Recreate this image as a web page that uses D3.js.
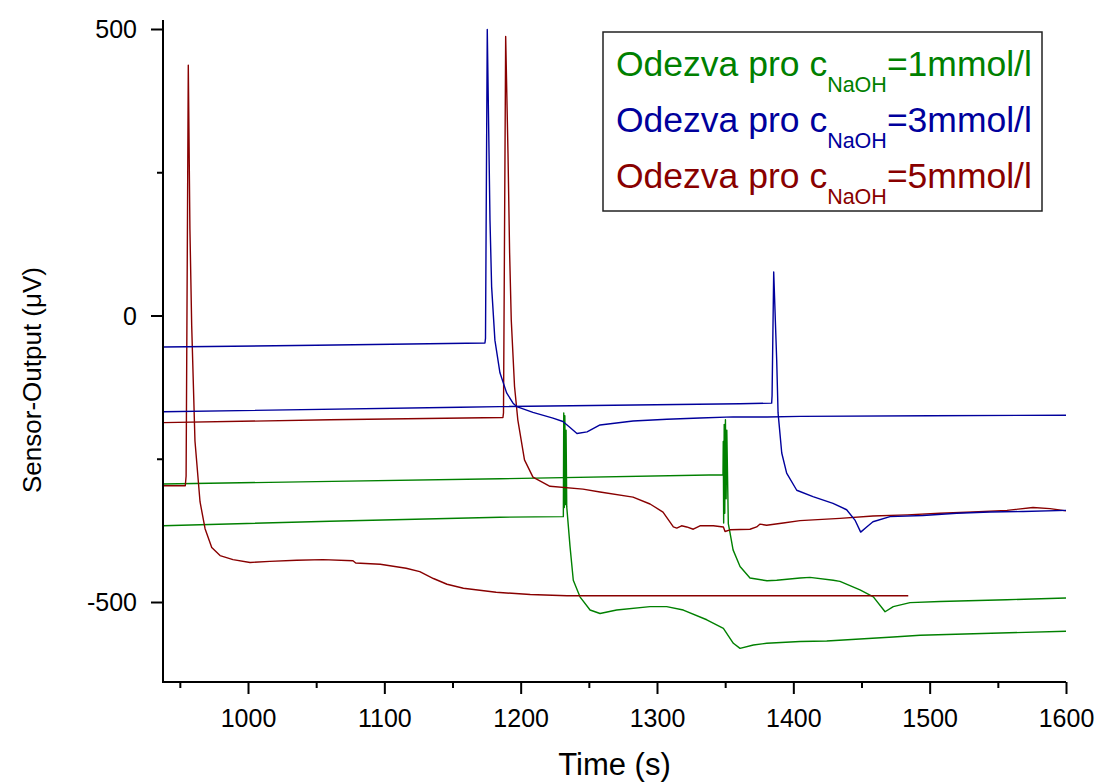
<!DOCTYPE html>
<html>
<head>
<meta charset="utf-8">
<script src="https://cdn.jsdelivr.net/npm/d3@7"></script>
<style>
  html, body { margin: 0; padding: 0; background: #fff; }
  svg { display: block; font-family: "Liberation Sans", Arial, sans-serif; }
</style>
</head>
<body>
<svg id="chart" width="1098" height="782"></svg>
<script>
// ---- Data (time in s, sensor output in µV) ----
const xTicks = [1000, 1100, 1200, 1300, 1400, 1500, 1600];
const xMinorTicks = [950, 1050, 1150, 1250, 1350, 1450, 1550];
const yTicks = [-500, 0, 500];
const yMinorTicks = [-250, 250];
const xTitle = "Time (s)";
const yTitle = "Sensor-Output (\u03BCV)";

const legendLabels = ["=1mmol/l", "=3mmol/l", "=5mmol/l"];
const seriesColors = ["#008000", "#00009c", "#880000"];

// green (1 mmol/l), first trace (upper)
const green1 = [[937.6,-294],[1050,-290],[1184.8,-285],[1348.4,-278],[1348.6,-220],[1348.9,-362],[1349.3,-190],
  [1349.7,-345],[1350.2,-182],[1350.7,-320],[1351.2,-200],[1352.3,-363],[1353.6,-380],[1355.8,-409],[1360.9,-438],
  [1368.2,-458],[1380.7,-463],[1387.8,-462],[1404.9,-458],[1412.2,-457],[1429.3,-462],[1434.2,-464],[1448.9,-479],
  [1458.7,-491],[1467.3,-517],[1473.3,-508],[1485.6,-501],[1507.6,-499],[1556.5,-496],[1600,-493]];
// green (1 mmol/l), second trace (lower)
const green2 = [[937.6,-367],[1060,-359],[1184.8,-352],[1231.3,-351],[1231.6,-170],[1232.0,-335],[1232.4,-175],
  [1232.9,-330],[1233.3,-200],[1233.8,-334],[1236.2,-403],[1238.6,-462],[1243.5,-491],[1250.9,-514],[1258.2,-520],
  [1270.4,-514],[1294.9,-508],[1307.1,-508],[1319.3,-514],[1336.5,-531],[1348.7,-546],[1356,-572],[1360.9,-581],
  [1370.7,-575],[1380.5,-572],[1404.9,-569],[1424.5,-568],[1473.3,-561],[1493,-558],[1600,-551]];
// blue (3 mmol/l), first trace
const blue1 = [[937.6,-55],[1050,-52],[1173.8,-48],[1174.2,-40],[1175.5,499],[1177.5,166],[1178.7,50],[1181.1,-43],
  [1184.8,-100],[1189.7,-135],[1194.4,-153],[1197.1,-159],[1209,-169],[1223.7,-179],[1231,-185],[1236,-195],
  [1241.3,-206],[1248.7,-203],[1258.2,-191],[1282.4,-184],[1307.3,-181],[1331.5,-179],[1355.8,-177],[1380.7,-177],
  [1404.9,-176],[1500,-175],[1600,-174]];
// blue (3 mmol/l), second trace
const blue2 = [[937.6,-168],[1155.5,-160],[1184.8,-159],[1360.9,-154],[1384.1,-153],[1384.4,-140],[1385.6,76],
  [1387.8,-78],[1388.8,-170],[1391.5,-240],[1395.1,-275],[1402.5,-305],[1414.4,-316],[1429.1,-328],[1439.1,-339],
  [1445.2,-357],[1449.4,-378],[1453.8,-369],[1458.4,-360],[1470.9,-351],[1495.1,-349],[1519.8,-345],[1544.3,-343],
  [1568.5,-342],[1600,-340]];
// red (5 mmol/l), first trace
const red1 = [[937.6,-297],[954.0,-297],[954.6,-280],[956.2,437],[957.4,150],[958.7,-18],[961.1,-219],[964.8,-325],
  [968.5,-372],[973.4,-405],[979.5,-419],[989,-426],[1001.5,-431],[1016,-429],[1035.7,-427],[1055,-426],[1077,-428],
  [1079,-432],[1097,-434],[1116,-441],[1126,-447],[1136,-459],[1146,-469],[1158,-476],[1182,-483],[1207,-487],
  [1234,-489],[1300,-489],[1400,-489],[1484.3,-489]];
// red (5 mmol/l), second trace
const red2 = [[937.6,-187],[1060,-182],[1187.0,-178],[1187.4,-170],[1189.0,487],[1190.7,283],[1191.9,109],
  [1193.1,-8],[1195.5,-124],[1197.9,-182],[1202.8,-252],[1209,-282],[1221.5,-298],[1245.7,-303],[1258.2,-308],
  [1282.4,-317],[1294.9,-329],[1304.4,-343],[1312,-369],[1314.5,-371],[1318,-367],[1321.8,-369],[1326.6,-373],
  [1331.5,-367],[1341.3,-367],[1348.7,-369],[1349.9,-377],[1353.6,-374],[1368.2,-373],[1373.1,-369],[1375.6,-364],
  [1380.4,-366],[1392.6,-362],[1404.9,-358],[1434.2,-354],[1458.4,-350],[1483.4,-348],[1507.6,-345],[1531.8,-343],
  [1556.7,-340],[1575.8,-335],[1588.3,-337],[1600,-341]];

const traces = [
  {data: green1, color: 0}, {data: green2, color: 0},
  {data: red1, color: 2}, {data: red2, color: 2},
  {data: blue1, color: 1}, {data: blue2, color: 1}
];

// ---- Layout ----
const svg = d3.select("#chart");
const plot = {left: 163, right: 1066, top: 20, bottom: 682};

const x = d3.scaleLinear().domain([937.65, 1600]).range([plot.left, plot.right]);
const y = d3.scaleLinear().domain([-639.6, 515.7]).range([plot.bottom, plot.top]);

// ---- Lines ----
const line = d3.line().x(d => x(d[0])).y(d => y(d[1]));
svg.append("g").selectAll("path").data(traces).join("path")
  .attr("d", d => line(d.data))
  .attr("fill", "none")
  .attr("stroke", d => seriesColors[d.color])
  .attr("stroke-width", 1.4)
  .attr("stroke-linejoin", "round");

// ---- Axes ----
const tickFont = 25;
const fmt = d => String(d);
const xAxis = svg.append("g").attr("transform", `translate(0,${plot.bottom})`)
  .call(d3.axisBottom(x).tickValues(xTicks).tickSize(12).tickSizeOuter(0).tickFormat(fmt));
xAxis.select(".domain").attr("stroke-width", 2).attr("d", `M${plot.left},0H${plot.right}`);
xAxis.selectAll(".tick line").attr("stroke-width", 2);
xAxis.selectAll(".tick text").attr("y", 45).attr("dy", 0)
  .attr("font-size", tickFont).attr("font-family", "Liberation Sans, Arial, sans-serif").attr("fill", "#000");
svg.append("g").attr("transform", `translate(0,${plot.bottom})`)
  .call(d3.axisBottom(x).tickValues(xMinorTicks).tickSize(6).tickFormat(""))
  .call(g => g.select(".domain").remove())
  .selectAll(".tick line").attr("stroke-width", 2);

const yAxis = svg.append("g").attr("transform", `translate(${plot.left},0)`)
  .call(d3.axisLeft(y).tickValues(yTicks).tickSize(12).tickSizeOuter(0).tickFormat(fmt));
yAxis.select(".domain").attr("stroke-width", 2).attr("d", `M0,${plot.top}V${plot.bottom + 1}`);
yAxis.selectAll(".tick line").attr("stroke-width", 2);
yAxis.selectAll(".tick text").attr("x", -26).attr("dy", "0.35em")
  .attr("font-size", tickFont).attr("font-family", "Liberation Sans, Arial, sans-serif").attr("fill", "#000");
svg.append("g").attr("transform", `translate(${plot.left},0)`)
  .call(d3.axisLeft(y).tickValues(yMinorTicks).tickSize(6).tickFormat(""))
  .call(g => g.select(".domain").remove())
  .selectAll(".tick line").attr("stroke-width", 2);

// ---- Axis titles ----
svg.append("text").attr("x", (plot.left + plot.right) / 2).attr("y", 775)
  .attr("text-anchor", "middle").attr("font-size", 31).text(xTitle);
svg.append("text").attr("transform", `translate(41,380) rotate(-90)`)
  .attr("text-anchor", "middle").attr("font-size", 26).text(yTitle);

// ---- Legend ----
const lg = svg.append("g");
lg.append("rect").attr("x", 603).attr("y", 32).attr("width", 439).attr("height", 179)
  .attr("fill", "#fff").attr("stroke", "#222").attr("stroke-width", 1.5);
legendLabels.forEach((lab, i) => {
  const t = lg.append("text").attr("x", 616).attr("y", 75.5 + i * 56)
    .attr("font-size", 35.5).attr("fill", seriesColors[i]);
  t.append("tspan").text("Odezva pro c");
  t.append("tspan").attr("font-size", 21.5).attr("dy", 16).text("NaOH");
  t.append("tspan").attr("dy", -16).text(lab);
});
</script>
</body>
</html>
